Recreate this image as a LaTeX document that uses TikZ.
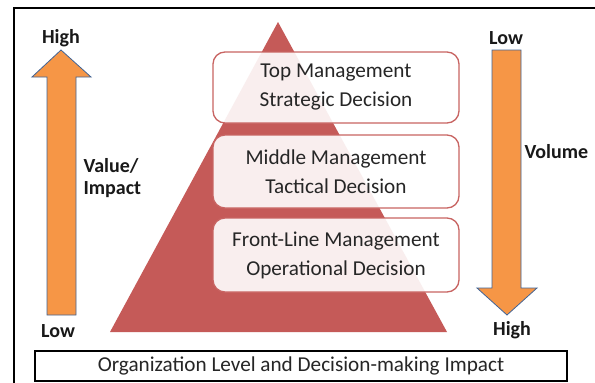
\documentclass[tikz,border=0pt]{standalone}
\usepackage{fontspec}
\setmainfont{Carlito}
\definecolor{pyr}{RGB}{197,90,88}
\definecolor{pyrline}{RGB}{200,100,98}
\definecolor{arrfill}{RGB}{246,150,70}
\definecolor{arrline}{RGB}{65,100,150}
\begin{document}
\begin{tikzpicture}[x=1pt,y=-1pt,
  level/.style={draw=pyrline,line width=1.3pt,rounded corners=12pt,fill=white,fill opacity=0.9,text opacity=1},
  lvtext/.style={font=\fontsize{21.2}{29}\selectfont,text=black!85,align=center},
  tag/.style={font=\bfseries\fontsize{20}{22}\selectfont,text=black!90,align=left},
  bigarrow/.style={fill=arrfill,draw=arrline,line width=0.8pt}]
\useasboundingbox (0,0) rectangle (595,383);
\fill[white] (0,0) rectangle (595,383);
% frame
\draw[line width=2.2pt] (14,383) -- (14,8) -- (595,8);
% pyramid
\fill[pyr] (278,22) coordinate (apex) -- (110,332) coordinate (bl) -- (447,332) coordinate (br) -- cycle;
% level boxes
\draw[level] (213,52) rectangle (459,123);
\draw[level] (213,135) rectangle (459,208);
\draw[level] (213,218) rectangle (459,292);
\node[lvtext] (top) at (336,87.5) {Top Management\\Strategic Decision};
\node[lvtext] (mid) at (336,171.5) {Middle Management\\Tactical Decision};
\node[lvtext] (low) at (336,255) {Front-Line Management\\Operational Decision};
% value / impact arrow (up)
\draw[bigarrow] (47,315) -- (47,77) -- (32,77) -- (61,50) -- (91,77) -- (76,77) -- (76,315) -- cycle;
% volume arrow (down)
\draw[bigarrow] (492,50) -- (521,50) -- (521,288) -- (537,288) -- (507,315) -- (477,288) -- (492,288) -- cycle;
% labels
\node[tag] (vhigh) at (61,38) {High};
\node[tag] (vlow) at (58,331) {Low};
\node[tag] (vimp) at (80,178) [anchor=west] {Value/\\Impact};
\node[tag] (olow) at (506,38) {Low};
\node[tag] (ohigh) at (512,330) {High};
\node[tag] (ovol) at (521,152) [anchor=west] {Volume};
% caption box
\node[draw,line width=1.3pt,minimum width=532pt,minimum height=30pt,inner sep=0pt,font=\fontsize{21.2}{22}\selectfont,text=black!85] (cap) at (301,366) {Organization Level and Decision-making Impact};
\end{tikzpicture}
\end{document}
